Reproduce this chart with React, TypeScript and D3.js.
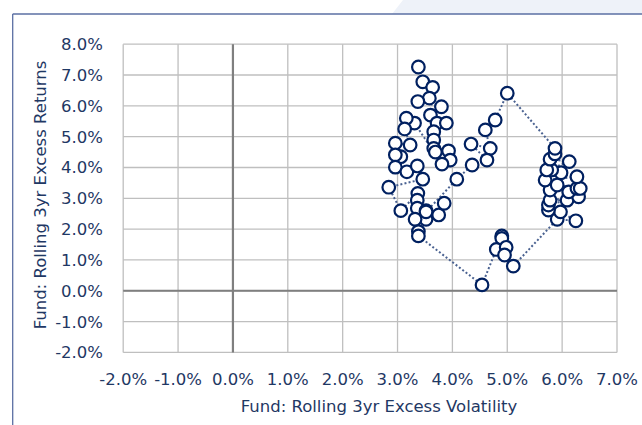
import React from "react";
import * as d3 from "d3";

// Rolling 3yr excess volatility (%) and excess returns (%), in path order
const volatility = [
  3.38, 3.46, 3.64, 3.58, 3.37, 3.80, 3.60, 3.72, 3.89, 3.66,
  3.66, 3.66, 3.69, 3.93, 3.96, 3.81, 3.31, 3.16, 3.13, 3.23,
  2.96, 3.06, 2.96, 2.96, 3.17, 3.36, 3.46, 2.84, 3.06, 3.37,
  3.36, 3.36, 3.52, 3.52, 3.32, 3.38, 3.38, 4.54, 4.90, 4.90,
  4.80, 4.98, 4.95, 5.11, 5.91, 6.25, 5.97, 5.75, 5.75, 6.09,
  5.78, 6.30, 6.12, 5.78, 6.27, 6.33, 5.91, 5.69, 6.27, 5.98,
  5.81, 5.72, 6.13, 5.78, 5.87, 5.87, 5.00, 4.78, 4.60, 4.69,
  4.34, 4.63, 4.36, 4.08, 3.52, 3.75, 3.85,
];
const returns = [
  7.26, 6.78, 6.60, 6.25, 6.14, 5.97, 5.70, 5.44, 5.44, 5.16,
  4.89, 4.62, 4.50, 4.54, 4.24, 4.11, 5.44, 5.60, 5.25, 4.73,
  4.79, 4.35, 4.41, 4.01, 3.86, 4.05, 3.62, 3.36, 2.60, 3.16,
  2.94, 2.68, 2.60, 2.32, 2.32, 1.92, 1.78, 0.19, 1.78, 1.70,
  1.34, 1.41, 1.16, 0.80, 2.32, 2.27, 2.56, 2.62, 2.78, 2.94,
  2.94, 3.05, 3.21, 3.27, 3.32, 3.32, 3.43, 3.59, 3.70, 3.83,
  3.92, 3.92, 4.19, 4.27, 4.44, 4.62, 6.41, 5.54, 5.22, 4.62,
  4.76, 4.24, 4.08, 3.62, 2.56, 2.46, 2.84,
];

const xTicks = [-2, -1, 0, 1, 2, 3, 4, 5, 6, 7];
const yTicks = [-2, -1, 0, 1, 2, 3, 4, 5, 6, 7, 8];
const xTitle = "Fund: Rolling 3yr Excess Volatility";
const yTitle = "Fund: Rolling 3yr Excess Returns";

const W = 642;
const H = 425;
const FONT = "'DejaVu Sans', sans-serif";
const TEXT = "#1F3864";
const FS = 16.5;

export default function App() {
  const x = d3.scaleLinear().domain([-2, 7]).range([123.2, 617]);
  const y = d3.scaleLinear().domain([-2, 8]).range([352.4, 44.2]);
  const pts = volatility.map((v, i) => [v, returns[i]] as [number, number]);
  const line = d3
    .line<[number, number]>()
    .x((d) => x(d[0]))
    .y((d) => y(d[1]));
  const fmt = (v: number) => v.toFixed(1) + "%";

  return (
    <svg
      width={W}
      height={H}
      style={{ position: "absolute", left: 0, top: 0, display: "block" }}
    >
      <rect x={0} y={0} width={W} height={H} fill="#fff" />
      <polygon points="392,14 403,0 642,0 642,14" fill="#EEF2F9" />
      <line x1={12.7} y1={14} x2={642} y2={14} stroke="#5B6FA3" strokeWidth={1.3} />
      <line x1={12.7} y1={14} x2={12.7} y2={425} stroke="#5B6FA3" strokeWidth={1.3} />

      {/* gridlines */}
      {xTicks.map((t) => (
        <line
          key={"gx" + t}
          x1={x(t)}
          x2={x(t)}
          y1={y(8)}
          y2={y(-2)}
          stroke="#BFBFBF"
          strokeWidth={1.3}
        />
      ))}
      {yTicks.map((t) => (
        <line
          key={"gy" + t}
          x1={x(-2)}
          x2={x(7)}
          y1={y(t)}
          y2={y(t)}
          stroke="#BFBFBF"
          strokeWidth={1.3}
        />
      ))}
      {/* zero axes */}
      <line x1={x(0)} x2={x(0)} y1={y(8)} y2={y(-2)} stroke="#7F7F7F" strokeWidth={2.2} />
      <line x1={x(-2)} x2={x(7)} y1={y(0)} y2={y(0)} stroke="#7F7F7F" strokeWidth={2.2} />

      {/* tick labels */}
      {yTicks.map((t) => (
        <text
          key={"ty" + t}
          x={103}
          y={y(t)}
          dy="0.36em"
          textAnchor="end"
          fontFamily={FONT}
          fontSize={FS}
          fill={TEXT}
        >
          {fmt(t)}
        </text>
      ))}
      {xTicks.map((t) => (
        <text
          key={"tx" + t}
          x={x(t)}
          y={385}
          textAnchor="middle"
          fontFamily={FONT}
          fontSize={FS}
          fill={TEXT}
        >
          {fmt(t)}
        </text>
      ))}

      {/* axis titles */}
      <text
        x={379}
        y={412}
        textAnchor="middle"
        fontFamily={FONT}
        fontSize={FS}
        fill={TEXT}
      >
        {xTitle}
      </text>
      <text
        transform={`translate(46,195) rotate(-90)`}
        textAnchor="middle"
        fontFamily={FONT}
        fontSize={FS}
        fill={TEXT}
      >
        {yTitle}
      </text>

      {/* path */}
      <path
        d={line(pts) || ""}
        fill="none"
        stroke="#4A6291"
        strokeWidth={2}
        strokeDasharray="2 2.2"
      />
      {pts.map((p, i) => (
        <circle
          key={"c" + i}
          cx={x(p[0])}
          cy={y(p[1])}
          r={6.3}
          fill="#fff"
          stroke="#002060"
          strokeWidth={2.2}
        />
      ))}
    </svg>
  );
}
